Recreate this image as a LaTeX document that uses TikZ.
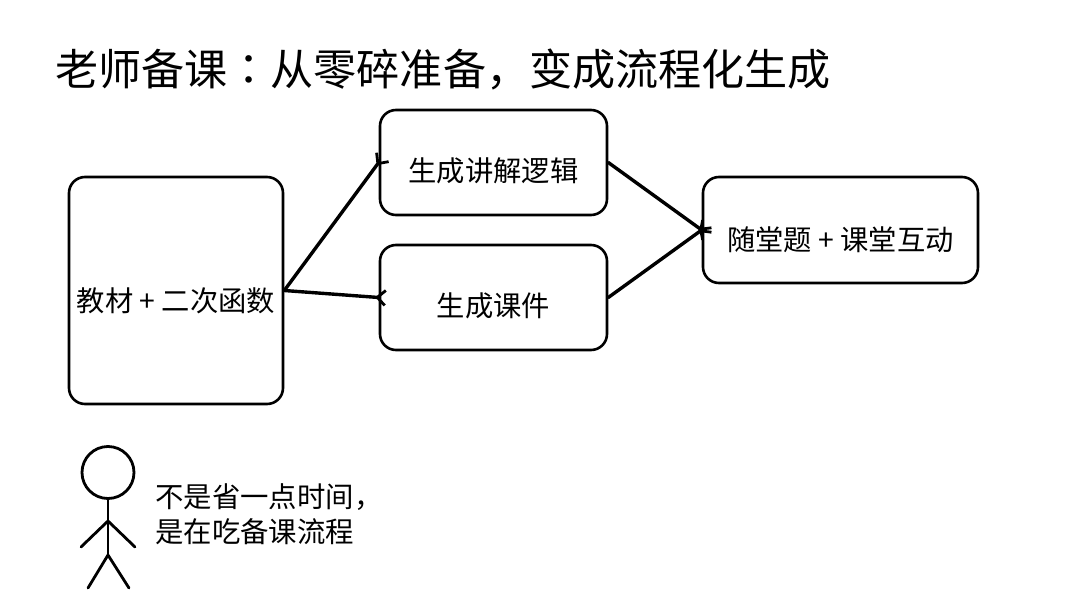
\documentclass[tikz,border=0pt]{standalone}
\usepackage{fontspec}
\setmainfont{Noto Sans CJK SC}
\newfontfamily\colonfont{Noto Sans CJK JP}
\usetikzlibrary{arrows.meta, positioning}

\tikzset{
  stepbox/.style={draw, line width=2.6pt, rounded corners=16pt, inner sep=0pt, text height=37pt, text depth=0pt, font=\fontsize{28.3}{34}\selectfont},
  link/.style={line width=3.4pt, shorten >=-8pt, -{Straight Barb[reversed, length=8pt, width=15pt, line width=2.8pt]}},
  stick/.style={line width=2.8pt, line cap=round},
}

\begin{document}
\begin{tikzpicture}[line cap=round,line join=round,x=1pt,y=-1pt]
\useasboundingbox (0,0) rectangle (1080,608);

% title
\node (title) [anchor=west, inner sep=0pt, font=\fontsize{43.1}{50}\selectfont] at (55,70) {老师备课{\colonfont ：}从零碎准备，变成流程化生成};

% boxes
\node (material) [stepbox, text height=41pt, minimum width=214pt, minimum height=227pt] at (176,290.5) {教材 + 二次函数};
\node (logic) [stepbox, minimum width=227pt, minimum height=105pt] at (493.5,162.5) {生成讲解逻辑};
\node (slides) [stepbox, minimum width=227pt, minimum height=105pt] at (493.5,297.5) {生成课件};
\node (quiz) [stepbox, text height=41pt, minimum width=275pt, minimum height=106pt] at (840.5,230) {随堂题 + 课堂互动};

% connectors
\draw [link] (material.east) -- (logic.west);
\draw [link] (material.east) -- (slides.west);
\draw [link] (logic.east) -- (quiz.west);
\draw [link] (slides.east) -- (quiz.west);

% stick figure
\node (head) [draw, circle, line width=2.8pt, minimum size=52pt, inner sep=0pt] at (108,472.5) {};
\coordinate (neck) at (head.south);
\coordinate (shoulder) at (108,521);
\coordinate (hip) at (108,555);
\draw [stick] (neck) -- (hip);
\draw [stick] (81,547) -- (shoulder) -- (135,547);
\draw [stick] (88,588) -- (hip) -- (129,588);

% caption
\node (caption) [anchor=west, inner sep=0pt, align=left, font=\fontsize{28.4}{35}\selectfont] at (155,514) {不是省一点时间，\\是在吃备课流程};

\end{tikzpicture}
\end{document}
